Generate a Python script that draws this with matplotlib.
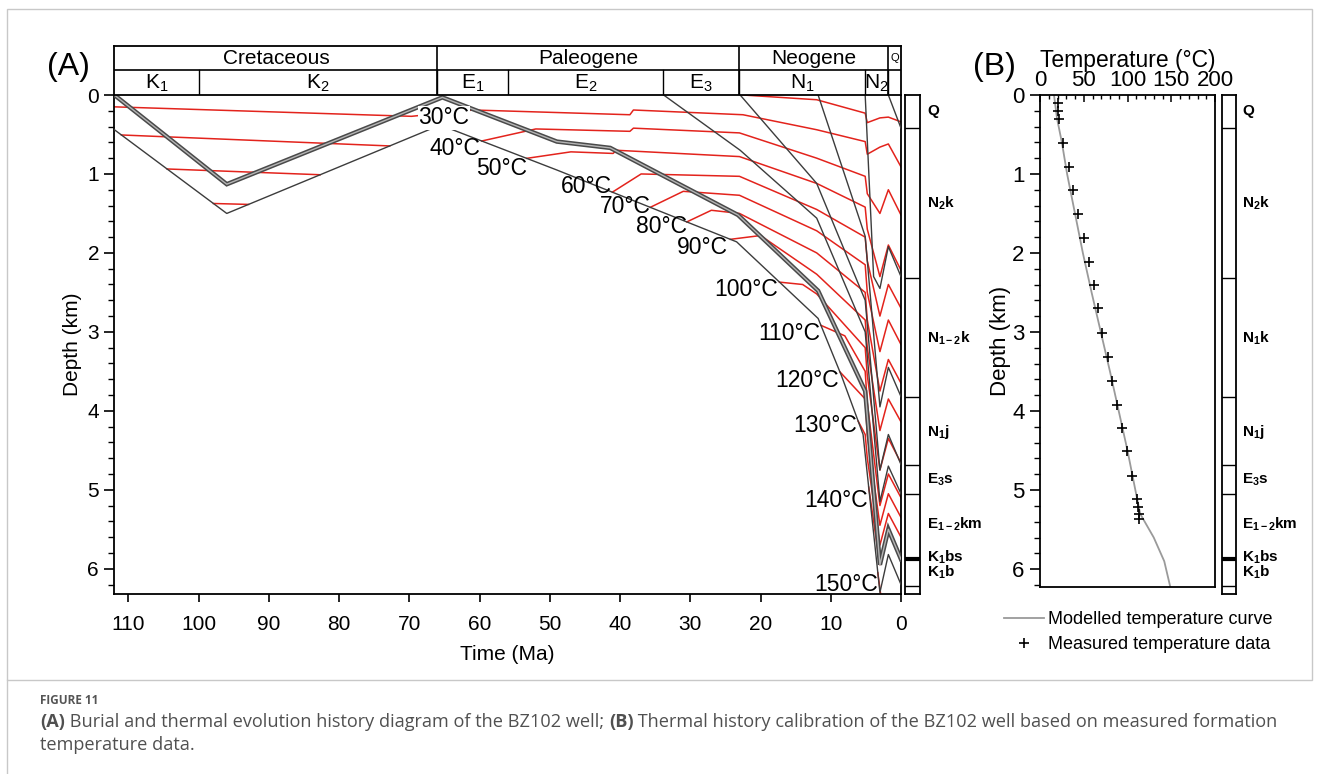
import matplotlib
matplotlib.use('Agg')
import matplotlib.pyplot as plt
from matplotlib.lines import Line2D
from matplotlib.patches import Rectangle
from matplotlib.ticker import MultipleLocator
import numpy as np

plt.rcParams['font.family'] = ['Liberation Sans', 'DejaVu Sans']
plt.rcParams['mathtext.fontset'] = 'custom'
plt.rcParams['mathtext.rm'] = 'Liberation Sans'
plt.rcParams['mathtext.bf'] = 'Liberation Sans:bold'
plt.rcParams['mathtext.it'] = 'Liberation Sans:italic'

W, H = 1319, 774

# ---------------- data ----------------
# chronostratigraphic header (Ma)
periods = ['Cretaceous', 'Paleogene', 'Neogene', 'Q']
period_edges = [112, 66, 23, 1.8, 0]
epochs = ['K_1', 'K_2', 'E_1', 'E_2', 'E_3', 'N_1', 'N_2']
epoch_edges = [112, 100, 66, 56, 33.9, 23, 5.1, 1.8]

# burial history horizons (time Ma, depth km)
h6_t = [112, 96, 65.6, 49, 23.4, 11.8, 8.5, 5.4, 3.0, 1.8, 0]
h6_d = [0.44, 1.50, 0.38, 0.95, 1.86, 2.83, 3.55, 4.3, 6.3, 5.82, 6.2]
h5_t = [112, 96, 65.3, 49, 41.4, 23.2, 11.8, 5.1, 3.0, 1.8, 0]
h5_d = [0, 1.13, 0.03, 0.59, 0.67, 1.52, 2.48, 3.75, 5.95, 5.5, 5.88]
h4_t = [33.8, 22.9, 12, 5.1, 3.0, 1.8, 0]
h4_d = [0, 0.7, 1.56, 3.0, 5.15, 4.7, 5.05]
h3_t = [22.9, 12, 5.1, 3.0, 1.8, 0]
h3_d = [0, 1.12, 2.6, 4.75, 4.3, 4.68]
h2_t = [11.8, 5.1, 3.0, 1.8, 0]
h2_d = [0, 1.79, 3.95, 3.45, 3.82]
h1_t = [5.1, 3.9, 3.0, 1.8, 0]
h1_d = [0, 2.3, 2.45, 1.92, 2.3]
h0_t = [1.8, 0]
h0_d = [0, 0.42]

# isotherms (°C); a depth of None means the point lies on the basal horizon
iso20_t = [22.5, 12, 5.1, 4.8, 3.0, 1.8, 0]
iso20_d = [0.0, 0.06, 0.23, 0.35, 0.29, 0.28, 0.34]
iso30_t = [112, 69.7, 60.9, 38.6, 38.1, 22.5, 12, 5.1, 4.8, 3.0, 1.8, 0]
iso30_d = [0.15, 0.27, 0.19, 0.25, 0.19, 0.25, 0.44, 0.59, 0.75, 0.66, 0.62, 0.91]
iso40k_t = [111.0, 72.8]
iso50k_t = [104.5, 82.7]
iso60k_t = [97.9, 92.9]
iso40_t = [59.7, 52, 38.6, 38.1, 23, 12, 5.1, 4.8, 3.0, 1.8, 0]
iso40_d = [None, 0.43, 0.46, 0.42, 0.48, 0.80, 1.03, 1.25, 1.5, 1.2, 1.52]
iso50_t = [53.3, 47, 41, 40.5, 23, 12, 5.1, 4.8, 3.0, 1.8, 0]
iso50_d = [None, 0.72, 0.74, 0.70, 0.78, 1.12, 1.42, 1.7, 2.3, 1.9, 2.22]
iso60_t = [41.1, 37, 23, 12, 5.1, 4.8, 3.0, 1.8, 0]
iso60_d = [None, 1.0, 1.03, 1.45, 1.80, 2.1, 2.8, 2.4, 2.70]
iso70_t = [35.7, 31, 23, 12, 5.1, 4.8, 3.0, 1.8, 0]
iso70_d = [None, 1.22, 1.27, 1.72, 2.15, 2.5, 3.25, 2.85, 3.16]
iso80_t = [30.5, 27, 23, 12, 5.1, 4.8, 3.0, 1.8, 0]
iso80_d = [None, 1.46, 1.5, 2.0, 2.5, 2.85, 3.75, 3.35, 3.65]
iso90_t = [24.3, 20, 12, 5.1, 4.8, 3.0, 1.8, 0]
iso90_d = [None, 1.78, 2.27, 2.85, 3.2, 4.25, 3.85, 4.14]
iso100_t = [17.3, 14, 12, 5.1, 4.8, 3.0, 1.8, 0]
iso100_d = [None, 2.4, 2.52, 3.2, 3.55, 4.75, 4.35, 4.66]
iso110_t = [11.4, 8, 5.1, 4.8, 3.0, 1.8, 0]
iso110_d = [None, 3.05, 3.5, 3.9, 5.2, 4.8, 5.1]
iso120_t = [8.7, 5.1, 4.8, 3.0, 1.8, 0]
iso120_d = [None, 3.85, 4.3, 5.45, 5.05, 5.35]
iso130_t = [6.1, 5.1, 4.8, 3.0, 1.8, 0]
iso130_d = [None, 4.3, 4.6, 5.7, 5.3, 5.6]
iso140_t = [4.6, 3.0, 1.8, 0]
iso140_d = [None, 5.95, 5.55, 5.85]
iso150_t = [3.3, 2.9]
iso150_d = [None, 6.32]

iso_labels = ['30°C', '40°C', '50°C', '60°C', '70°C', '80°C', '90°C',
              '100°C', '110°C', '120°C', '130°C', '140°C', '150°C']
label_t = [65.1, 59.9, 53.3, 41.1, 35.7, 30.5, 24.6, 17.5, 11.5, 8.9, 6.2, 4.7, 3.3]
label_d = [0.29, 0.68, 0.93, 1.16, 1.41, 1.66, 1.93, 2.46, 3.02, 3.61, 4.18, 5.13, 6.2]

# present-day stratigraphic column (km)
strata_tops = [0, 0.42, 2.32, 3.82, 4.68, 5.05, 5.88, 6.22]
strata_a = ['Q', 'N_2k', 'N_{1-2}k', 'N_1j', 'E_3s', 'E_{1-2}km', 'K_1bs', 'K_1b']
strata_b = ['Q', 'N_2k', 'N_1k', 'N_1j', 'E_3s', 'E_{1-2}km', 'K_1bs', 'K_1b']
strata_label_d = [0.21, 1.37, 3.08, 4.27, 4.87, 5.44, 5.86, 6.05]

# panel B: modelled and measured temperature
model_d = [0, 0.3, 0.6, 1.0, 1.5, 2.0, 2.5, 3.0, 3.5, 4.0, 4.5, 5.0, 5.3, 5.6, 5.9, 6.23]
model_T = [16, 19.5, 25, 31, 40, 49, 59, 69.5, 80, 90, 100, 109, 114.5, 130, 142, 149]
meas_d = [0.10, 0.20, 0.31, 0.61, 0.91, 1.20, 1.51, 1.81, 2.11, 2.41, 2.70, 3.01,
          3.31, 3.62, 3.92, 4.21, 4.51, 4.82, 5.11, 5.21, 5.30, 5.36]
meas_T = [20.9, 20.9, 22, 26.7, 33.1, 37.7, 43.8, 49.9, 55.6, 61.3, 66.7, 71.2,
          77.3, 82.3, 88, 93.7, 99.4, 105, 110.5, 112, 112.6, 112.6]

# ---------------- layout helpers ----------------
fig = plt.figure(figsize=(W / 100, H / 100), dpi=100)


def px_axes(x0, y0, x1, y1):
    return fig.add_axes([x0 / W, 1 - y1 / H, (x1 - x0) / W, (y1 - y0) / H])


def h6_at(t):
    return float(np.interp(t, h6_t[::-1], h6_d[::-1]))


RED = '#e3231c'
GREY = '#3c3c3c'

# ---------------- panel A ----------------
ax = px_axes(114.4, 95, 901, 594)
ax.set_xlim(112, 0)
ax.set_ylim(6.32, 0)
for s in ['left', 'bottom', 'right']:
    ax.spines[s].set_linewidth(1.3)
ax.spines['top'].set_visible(False)
ax.xaxis.set_major_locator(MultipleLocator(10))
ax.yaxis.set_major_locator(MultipleLocator(1))
ax.yaxis.set_minor_locator(MultipleLocator(0.2))
ax.tick_params(axis='x', direction='out', length=6, width=1.2, labelsize=15, pad=9)
ax.tick_params(axis='y', which='major', direction='out', length=7, width=1.2, labelsize=15, pad=4)
ax.tick_params(axis='y', which='minor', direction='out', length=4, width=1)
ax.set_xlabel('Time (Ma)', fontsize=15, labelpad=8)
ax.set_ylabel('Depth (km)', fontsize=15, labelpad=4)

# isotherms
iso_segments = [
    (iso20_t, iso20_d), (iso30_t, iso30_d),
    (iso40k_t, [None, None]), (iso50k_t, [None, None]), (iso60k_t, [None, None]),
    (iso40_t, iso40_d), (iso50_t, iso50_d), (iso60_t, iso60_d), (iso70_t, iso70_d),
    (iso80_t, iso80_d), (iso90_t, iso90_d), (iso100_t, iso100_d), (iso110_t, iso110_d),
    (iso120_t, iso120_d), (iso130_t, iso130_d), (iso140_t, iso140_d), (iso150_t, iso150_d),
]
for ts, ds in iso_segments:
    ds = [h6_at(t) if d is None else d for t, d in zip(ts, ds)]
    ax.plot(ts, ds, color=RED, lw=1.1, zorder=2)

# horizons
for ts, ds in [(h6_t, h6_d), (h4_t, h4_d), (h3_t, h3_d), (h2_t, h2_d), (h1_t, h1_d), (h0_t, h0_d)]:
    ax.plot(ts, ds, color=GREY, lw=1.0, zorder=3)
ax.plot(h5_t, h5_d, color='#4a4a4a', lw=3.2, zorder=3, solid_joinstyle='miter')
ax.plot(h5_t, h5_d, color='#b5b5b5', lw=1.0, zorder=3)

for i, (lab, t, d) in enumerate(zip(iso_labels, label_t, label_d)):
    if i == 0:
        ax.text(t, d, lab, fontsize=16.5, ha='center', va='center', zorder=4,
                bbox=dict(facecolor='white', edgecolor='none', pad=0.5))
    else:
        ax.text(t, d, lab, fontsize=16.5, ha='right', va='center', zorder=4)

# header
hx = px_axes(114.4, 46, 901, 95)
hx.set_xlim(112, 0)
hx.set_ylim(0, 2)
hx.set_xticks([])
hx.set_yticks([])
for s in hx.spines.values():
    s.set_linewidth(1.3)
hx.axhline(1, color='k', lw=1.2)
for e in period_edges[1:-1]:
    hx.plot([e, e], [0, 2], color='k', lw=1.2)
for e in epoch_edges[1:]:
    hx.plot([e, e], [0, 1], color='k', lw=1.0)
for i, name in enumerate(periods):
    mid = (period_edges[i] + period_edges[i + 1]) / 2
    hx.text(mid, 1.5, name, ha='center', va='center',
            fontsize=8 if name == 'Q' else 15)
for i, name in enumerate(epochs):
    mid = (epoch_edges[i] + epoch_edges[i + 1]) / 2
    hx.text(mid, 0.48, '$\\mathrm{%s}$' % name, ha='center', va='center', fontsize=15)

fig.text(68 / W, 1 - 67 / H, '(A)', fontsize=23, ha='center', va='center')


# stratigraphic columns
def strat_column(x0, x1, names, lab_x):
    c = px_axes(x0, 95, x1, 594)
    c.set_xlim(0, 1)
    c.set_ylim(6.32, 0)
    c.set_xticks([])
    c.set_yticks([])
    for s in c.spines.values():
        s.set_linewidth(1.3)
    for d in strata_tops[1:]:
        c.axhline(d, color='k', lw=3.0 if abs(d - 5.88) < 1e-6 else 1.0)
    for name, d in zip(names, strata_label_d):
        c.text(lab_x, d, '$\\mathbf{%s}$' % name, fontsize=11, ha='left', va='center',
               clip_on=False)
    return c


strat_column(905, 920, strata_a, 1.45)
strat_column(1221.7, 1235.5, strata_b, 1.45)

# ---------------- panel B ----------------
bx = px_axes(1040, 95, 1215, 587.3)
bx.set_xlim(0, 200)
bx.set_ylim(6.23, 0)
for s in bx.spines.values():
    s.set_linewidth(1.3)
bx.xaxis.tick_top()
bx.xaxis.set_label_position('top')
bx.xaxis.set_major_locator(MultipleLocator(50))
bx.xaxis.set_minor_locator(MultipleLocator(10))
bx.yaxis.set_major_locator(MultipleLocator(1))
bx.yaxis.set_minor_locator(MultipleLocator(0.2))
bx.tick_params(axis='x', which='major', direction='in', length=5, width=1.1, labelsize=16, pad=3)
bx.tick_params(axis='x', which='minor', direction='in', length=3, width=1)
bx.tick_params(axis='y', which='major', direction='out', length=7, width=1.2, labelsize=16, pad=4)
bx.tick_params(axis='y', which='minor', direction='out', length=4, width=1)
bx.set_xlabel('Temperature (°C)', fontsize=16.5, labelpad=2)
bx.set_ylabel('Depth (km)', fontsize=16, labelpad=1)

ln, = bx.plot(model_T, model_d, color='#9a9a9a', lw=1.3, label='Modelled temperature curve')
pts, = bx.plot(meas_T, meas_d, linestyle='none', marker='+', color='k', ms=6.5, mew=1.2,
               label='Measured temperature data')
bx.legend(handles=[ln, pts], loc='upper left', bbox_to_anchor=(995 / W, 1 - 602 / H),
          bbox_transform=fig.transFigure, frameon=False, fontsize=13, borderpad=0,
          handlelength=2.2, handletextpad=0.25, labelspacing=0.45)

fig.text(994 / W, 1 - 67 / H, '(B)', fontsize=23, ha='center', va='center')

# ---------------- frame and caption ----------------
fig.add_artist(Rectangle((7 / W, 1 - 680 / H), (1312 - 7) / W, (680 - 9) / H,
                         transform=fig.transFigure, fill=False, edgecolor='#c8c8c8', lw=1))
fig.add_artist(Line2D([7 / W, 7 / W], [0, 1 - 680 / H], transform=fig.transFigure,
                      color='#c8c8c8', lw=1))

cap_kw = dict(family=['Open Sans', 'Noto Sans', 'DejaVu Sans'], color='#505050', va='center')
fig.text(40 / W, 1 - 700 / H, 'FIGURE 11', fontsize=8.5, fontweight='bold',
         **dict(cap_kw, color='#555555'))
renderer = fig.canvas.get_renderer()
x = 40
pieces = [('(A)', 'bold'),
          (' Burial and thermal evolution history diagram of the BZ102 well; ', 'normal'),
          ('(B)', 'bold'),
          (' Thermal history calibration of the BZ102 well based on measured formation', 'normal')]
for txt, wt in pieces:
    t = fig.text(x / W, 1 - 722 / H, txt, fontsize=13.05, fontweight=wt, **cap_kw)
    x += t.get_window_extent(renderer).width
fig.text(40 / W, 1 - 745 / H, 'temperature data.', fontsize=13.05, **cap_kw)

fig.savefig('out.png', dpi=100)
